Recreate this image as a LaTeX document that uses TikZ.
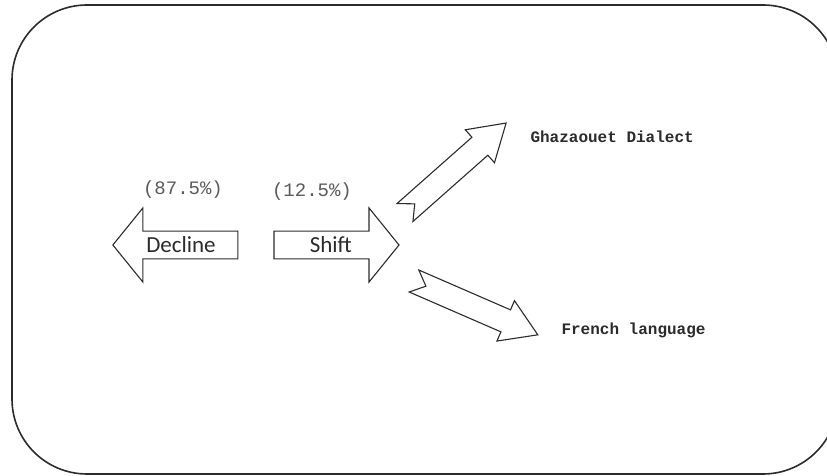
\documentclass[tikz,border=0pt]{standalone}
\usepackage{fontspec}
\setmainfont{Carlito}
\newfontfamily\codefont{Liberation Mono}
\usepackage{xcolor}
\definecolor{inkgray}{HTML}{2B2B2B}
\definecolor{pctgray}{HTML}{5A5A5A}
\usetikzlibrary{shapes.arrows,positioning}
\tikzset{
  framebox/.style={draw=inkgray,line width=1.6pt,rounded corners=75pt},
  blockarrow/.style={draw=inkgray,line width=1.1pt,single arrow,single arrow head extend=21pt,
    single arrow tip angle=102,minimum height=125pt,minimum width=74pt,inner sep=4pt,
    text=inkgray,font=\fontsize{23}{26}\selectfont},
  notcharrow/.style={draw=inkgray,line width=1.1pt,line join=miter},
  pctlabel/.style={font=\codefont\fontsize{19}{22}\selectfont,text=pctgray},
  langlabel/.style={font=\codefont\bfseries\fontsize{16}{18}\selectfont,text=inkgray,anchor=west}
}

\begin{document}
\begin{tikzpicture}[x=1pt,y=1pt]
\useasboundingbox (0,0) rectangle (827,476);
\draw[framebox] (12,2) rectangle (838,471);
% decline / shift
\node[blockarrow,shape border rotate=180] (decline) at (181,231) {Decline};
\node[blockarrow,right=35pt of decline] (shift) {Shift};
\node[pctlabel] (declinepct) at (183,286) {(87.5\%)};
\node[pctlabel] (shiftpct) at (312,284) {(12.5\%)};
% shift splits in two
\draw[notcharrow,shift={(405,263.5)},rotate=41.5] (0,12) -- (100,12) -- (100,22) -- (135,0) -- (100,-22) -- (100,-12) -- (0,-12) -- (13,0) -- cycle;
\draw[notcharrow,shift={(414,195)},rotate=-23.5] (0,12) -- (100,12) -- (100,22) -- (135,0) -- (100,-22) -- (100,-12) -- (0,-12) -- (13,0) -- cycle;
\node[langlabel] (ghazaouet) at (527,339) {Ghazaouet Dialect};
\node[langlabel] (french) at (558,146) {French language};
\end{tikzpicture}
\end{document}
